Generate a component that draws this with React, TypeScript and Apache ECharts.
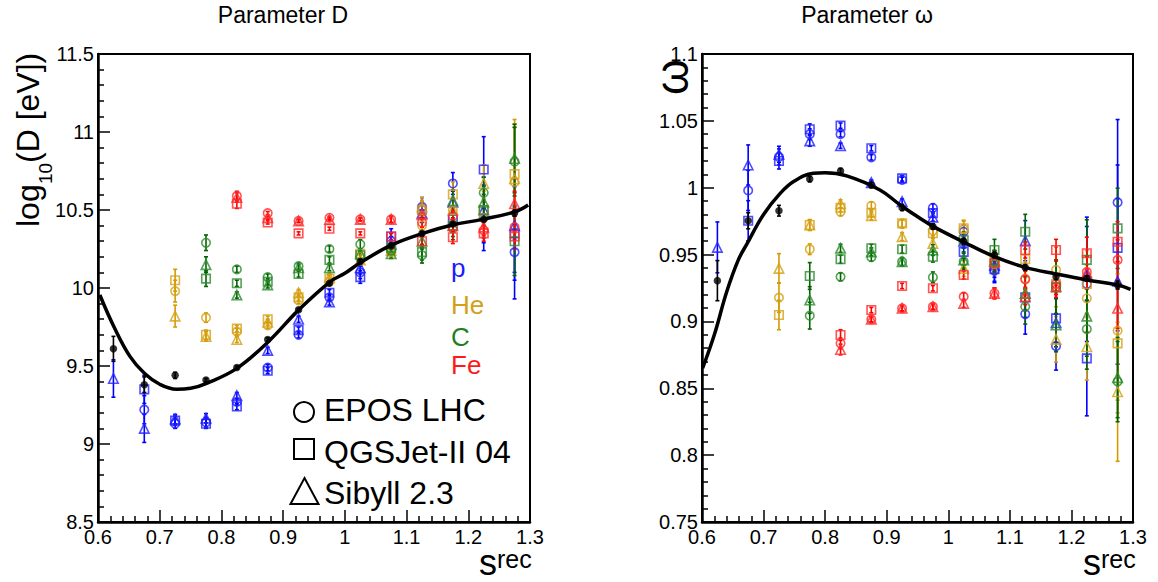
import React, { useEffect, useRef } from 'react';
import * as echarts from 'echarts';

// ---------- data ----------
const S_BINS = [0.625, 0.675, 0.725, 0.775, 0.825, 0.875, 0.925, 0.975, 1.025, 1.075, 1.125, 1.175, 1.225, 1.275];

// Parameter D : log10(D [eV])
const D_DATA = [9.61, 9.38, 9.44, 9.41, 9.49, 9.67, 9.86, 10.03, 10.17, 10.27, 10.35, 10.41, 10.44, 10.48];
const D_DATA_ERR = [0.08, 0.05, 0.02, 0.01, 0.01, 0.01, 0.01, 0.01, 0.01, 0.01, 0.01, 0.01, 0.01, 0.02];
const D_P_EPOS = [null, 9.22, 9.13, 9.14, 9.27, 9.49, 9.70, 9.94, 10.10, 10.30, 10.52, 10.67, 10.45, 10.23];
const D_P_QGS = [null, 9.35, 9.15, 9.13, 9.24, 9.47, 9.73, 9.97, 10.07, 10.33, 10.50, 10.44, 10.76, 10.35];
const D_P_SIB = [9.42, 9.10, 9.16, 9.165, 9.31, 9.60, 9.80, 9.91, 10.13, 10.28, 10.48, 10.55, 10.50, 10.40];
const D_P_ERR = [0.12, 0.09, 0.03, 0.03, 0.02, 0.02, 0.02, 0.02, 0.04, 0.05, 0.06, 0.07, 0.21, 0.30];
const D_HE_EPOS = [null, null, 9.98, 9.81, 9.72, 9.76, 9.92, 10.04, 10.20, 10.23, 10.40, 10.50, 10.45, 10.68];
const D_HE_QGS = [null, null, 10.05, 9.70, 9.74, 9.80, 9.94, 10.06, 10.22, 10.25, 10.50, 10.60, 10.50, 10.73];
const D_HE_SIB = [null, null, 9.82, 9.69, 9.67, 9.78, 9.97, 10.07, 10.18, 10.24, 10.52, 10.50, 10.67, 10.70];
const D_HE_ERR = [null, null, 0.07, 0.03, 0.02, 0.02, 0.02, 0.02, 0.03, 0.04, 0.06, 0.08, 0.12, 0.35];
const D_C_EPOS = [null, null, null, 10.29, 10.12, 10.07, 10.14, 10.25, 10.28, 10.24, 10.21, 10.38, 10.61, 10.81];
const D_C_QGS = [null, null, null, 10.06, 10.03, 10.04, 10.09, 10.18, 10.21, 10.26, 10.23, 10.40, 10.50, 10.30];
const D_C_SIB = [null, null, null, 10.15, 9.955, 10.02, 10.13, 10.13, 10.22, 10.22, 10.30, 10.56, 10.55, 10.83];
const D_C_ERR = [null, null, null, 0.05, 0.02, 0.02, 0.02, 0.02, 0.03, 0.03, 0.05, 0.07, 0.10, 0.22];
const D_FE_EPOS = [null, null, null, null, 10.59, 10.48, 10.43, 10.45, 10.44, 10.44, 10.42, 10.46, 10.37, 10.39];
const D_FE_QGS = [null, null, null, null, 10.54, 10.42, 10.35, 10.38, 10.35, 10.33, 10.30, 10.325, 10.35, 10.33];
const D_FE_SIB = [null, null, null, null, 10.58, 10.45, 10.43, 10.44, 10.44, 10.44, 10.47, 10.40, 10.39, 10.54];
const D_FE_ERR = [null, null, null, null, 0.03, 0.01, 0.01, 0.01, 0.01, 0.02, 0.03, 0.04, 0.05, 0.08];
const D_FIT_X = [0.603, 0.626, 0.652, 0.676, 0.70, 0.727, 0.75, 0.776, 0.825, 0.876, 0.926, 0.976, 1.0, 1.025, 1.076, 1.126, 1.174, 1.223, 1.276, 1.297];
const D_FIT_Y = [9.955, 9.75, 9.56, 9.45, 9.383, 9.351, 9.357, 9.389, 9.485, 9.656, 9.863, 10.04, 10.094, 10.162, 10.276, 10.35, 10.404, 10.44, 10.489, 10.532];

// Parameter omega
const W_DATA = [0.9305, 0.9753, 0.9828, 1.0065, 1.0125, 1.002, 0.985, 0.971, 0.960, 0.9497, 0.9404, 0.9334, 0.9322, 0.9272];
const W_DATA_ERR = [0.015, 0.006, 0.004, 0.002, 0.002, 0.002, 0.002, 0.002, 0.002, 0.002, 0.002, 0.002, 0.002, 0.003];
const W_P_EPOS = [null, 0.998, 1.023, 1.040, 1.040, 1.0227, 1.0058, 0.985, 0.967, 0.938, 0.9055, 0.8816, 0.928, 0.989];
const W_P_QGS = [null, 0.9753, 1.020, 1.0437, 1.0464, 1.0295, 1.007, 0.981, 0.952, 0.939, 0.918, 0.9023, 0.8724, 0.955];
const W_P_SIB = [0.9554, 1.017, 1.025, 1.035, 1.0314, 1.0038, 0.9896, 0.978, 0.960, 0.942, 0.9604, 0.899, 0.935, 0.930];
const W_P_ERR = [0.019, 0.015, 0.006, 0.004, 0.002, 0.002, 0.002, 0.003, 0.005, 0.009, 0.015, 0.018, 0.043, 0.062];
const W_HE_EPOS = [null, null, 0.9178, 0.954, 0.982, 0.9865, 0.973, 0.968, 0.969, 0.943, 0.932, 0.9385, 0.9173, 0.8931];
const W_HE_QGS = [null, null, 0.9048, 0.9721, 0.985, 0.9813, 0.9733, 0.966, 0.9697, 0.945, 0.9465, 0.928, 0.928, 0.8836];
const W_HE_SIB = [null, null, 0.9397, 0.9721, 0.988, 0.979, 0.9634, 0.9584, 0.9397, 0.945, 0.921, 0.8866, 0.8811, 0.8474];
const W_HE_ERR = [null, null, 0.011, 0.004, 0.003, 0.003, 0.003, 0.004, 0.006, 0.008, 0.012, 0.017, 0.025, 0.052];
const W_C_EPOS = [null, null, null, 0.9043, 0.9334, 0.948, 0.9447, 0.933, 0.945, 0.945, 0.911, 0.926, 0.8943, 0.855];
const W_C_QGS = [null, null, null, 0.934, 0.9465, 0.9547, 0.954, 0.9484, 0.9609, 0.9534, 0.9671, 0.9255, 0.946, 0.9696];
const W_C_SIB = [null, null, null, 0.916, 0.9547, 0.952, 0.9447, 0.9534, 0.946, 0.945, 0.921, 0.8973, 0.904, 0.858];
const W_C_ERR = [null, null, null, 0.010, 0.003, 0.003, 0.003, 0.004, 0.006, 0.008, 0.013, 0.020, 0.030, 0.030];
const W_FE_EPOS = [null, null, null, null, 0.8836, 0.9016, 0.9098, 0.911, 0.9185, 0.921, 0.9315, 0.928, 0.937, 0.946];
const W_FE_QGS = [null, null, null, null, 0.8898, 0.9085, 0.9265, 0.9248, 0.9347, 0.9435, 0.9534, 0.9534, 0.951, 0.9596];
const W_FE_SIB = [null, null, null, null, 0.879, 0.9016, 0.9098, 0.911, 0.9135, 0.921, 0.9185, 0.926, 0.9365, 0.9098];
const W_FE_ERR = [null, null, null, null, 0.004, 0.002, 0.002, 0.002, 0.003, 0.004, 0.006, 0.008, 0.012, 0.015];
const W_FIT_X = [0.601, 0.62, 0.64, 0.659, 0.673, 0.70, 0.727, 0.75, 0.781, 0.80, 0.835, 0.889, 0.922, 0.954, 0.976, 1.024, 1.075, 1.125, 1.175, 1.225, 1.275, 1.296];
const W_FIT_Y = [0.865, 0.89, 0.922, 0.946, 0.958, 0.98, 0.9958, 1.005, 1.0108, 1.0112, 1.0088, 0.9983, 0.9871, 0.9771, 0.9709, 0.9596, 0.9484, 0.9404, 0.9355, 0.931, 0.9272, 0.924];

const PRIMARIES = ['p', 'He', 'C', 'Fe'];
const MODEL_NAMES = ['EPOS LHC', 'QGSJet-II 04', 'Sibyll 2.3'];

// ---------- style ----------
const FONT = '"Liberation Sans", Arial, Helvetica, sans-serif';
const MARK_COLORS = ['#2020ff', '#d4a017', '#2a8a2a', '#ff2a2a'];
const ERR_COLORS = ['#0000ff', '#d49b00', '#006400', '#ff0000'];
const SYMBOLS = ['circle', 'rect', 'triangle'];
const SYMBOL_SIZES = [8.5, 8.5, 9.5];

const D_SETS = [
  { models: [D_P_EPOS, D_P_QGS, D_P_SIB], err: D_P_ERR },
  { models: [D_HE_EPOS, D_HE_QGS, D_HE_SIB], err: D_HE_ERR },
  { models: [D_C_EPOS, D_C_QGS, D_C_SIB], err: D_C_ERR },
  { models: [D_FE_EPOS, D_FE_QGS, D_FE_SIB], err: D_FE_ERR },
];
const W_SETS = [
  { models: [W_P_EPOS, W_P_QGS, W_P_SIB], err: W_P_ERR },
  { models: [W_HE_EPOS, W_HE_QGS, W_HE_SIB], err: W_HE_ERR },
  { models: [W_C_EPOS, W_C_QGS, W_C_SIB], err: W_C_ERR },
  { models: [W_FE_EPOS, W_FE_QGS, W_FE_SIB], err: W_FE_ERR },
];

function errSeries(grid: number, color: string, pts: number[][], z: number) {
  return {
    type: 'custom',
    xAxisIndex: grid,
    yAxisIndex: grid,
    z,
    silent: true,
    clip: true,
    encode: { x: 0, y: 1 },
    data: pts,
    renderItem: (params: any, api: any) => {
      const x = api.value(0);
      const y = api.value(1);
      const e = api.value(2);
      const t = api.coord([x, y + e]);
      const b = api.coord([x, y - e]);
      const st = { stroke: color, lineWidth: 1.6 };
      return {
        type: 'group',
        children: [
          { type: 'line', shape: { x1: t[0], y1: t[1], x2: b[0], y2: b[1] }, style: st },
          { type: 'line', shape: { x1: t[0] - 2, y1: t[1], x2: t[0] + 2, y2: t[1] }, style: st },
          { type: 'line', shape: { x1: b[0] - 2, y1: b[1], x2: b[0] + 2, y2: b[1] }, style: st },
        ],
      };
    },
  };
}

function buildSeries(grid: number, sets: any[], data: number[], dataErr: number[], fitX: number[], fitY: number[]) {
  const series: any[] = [];
  sets.forEach((set, pi) => {
    const errPts: number[][] = [];
    set.models.forEach((vals: (number | null)[], mi: number) => {
      const pts: number[][] = [];
      vals.forEach((v, i) => {
        if (v === null) return;
        pts.push([S_BINS[i], v]);
        const e = set.err[i];
        if (e) errPts.push([S_BINS[i], v, e]);
      });
      series.push({
        type: 'scatter',
        name: PRIMARIES[pi] + ' ' + MODEL_NAMES[mi],
        xAxisIndex: grid,
        yAxisIndex: grid,
        symbol: SYMBOLS[mi],
        symbolSize: SYMBOL_SIZES[mi],
        data: pts,
        z: 4,
        silent: true,
        itemStyle: { color: 'rgba(0,0,0,0)', borderColor: MARK_COLORS[pi], borderWidth: 1.6, opacity: 0.8 },
      });
    });
    series.push(errSeries(grid, ERR_COLORS[pi], errPts, 3));
  });
  const fit = fitX.map((x, i) => [x, fitY[i]]);
  series.push({
    type: 'line',
    xAxisIndex: grid,
    yAxisIndex: grid,
    data: fit,
    smooth: 0.4,
    showSymbol: false,
    silent: true,
    z: 5,
    lineStyle: { color: '#000', width: 3.5 },
  });
  const dpts = data.map((v, i) => [S_BINS[i], v]);
  const dErr = data.map((v, i) => [S_BINS[i], v, dataErr[i]]);
  series.push(errSeries(grid, '#000', dErr, 6));
  series.push({
    type: 'scatter',
    xAxisIndex: grid,
    yAxisIndex: grid,
    symbol: 'circle',
    symbolSize: 7.5,
    data: dpts,
    z: 7,
    silent: true,
    itemStyle: { color: '#000' },
  });
  return series;
}

const fmt = (v: number) => String(Math.round(v * 1000) / 1000);

function axisCommon() {
  return {
    type: 'value',
    axisLine: { show: true, onZero: false, lineStyle: { color: '#000', width: 2.5 } },
    axisTick: { show: true, inside: true, length: 12, lineStyle: { color: '#000', width: 1.5 } },
    minorTick: { show: true, splitNumber: 5, length: 6, lineStyle: { color: '#000', width: 1.5 } },
    splitLine: { show: false },
    axisLabel: { color: '#000', fontFamily: FONT, fontSize: 20, formatter: fmt, showMinLabel: true, showMaxLabel: true },
  };
}

export default function App() {
  const ref = useRef<HTMLDivElement>(null);
  useEffect(() => {
    if (!ref.current) return;
    const chart = echarts.init(ref.current, null, { renderer: 'svg' });
    const legendTexts = [
      { text: 'p', y: 268, c: '#1a1aff' },
      { text: 'He', y: 305, c: '#d4a017' },
      { text: 'C', y: 337, c: '#1f7f1f' },
      { text: 'Fe', y: 365, c: '#ff1a1a' },
    ];
    const graphic: any[] = [
      { type: 'text', x: 283, y: 15, style: { text: 'Parameter D', font: '23px ' + FONT, fill: '#000', align: 'center', verticalAlign: 'middle' } },
      { type: 'text', x: 867, y: 15, style: { text: 'Parameter ω', font: '23px ' + FONT, fill: '#000', align: 'center', verticalAlign: 'middle' } },
      {
        type: 'group', x: 28, y: 227, rotation: Math.PI / 2,
        children: [
          { type: 'text', x: 0, y: 0, style: { text: 'log', font: '32px ' + FONT, fill: '#000', align: 'left', verticalAlign: 'middle' } },
          { type: 'text', x: 43, y: 17, style: { text: '10', font: '19px ' + FONT, fill: '#000', align: 'left', verticalAlign: 'middle' } },
          { type: 'text', x: 64, y: 0, style: { text: '(D [eV])', font: '32px ' + FONT, fill: '#000', align: 'left', verticalAlign: 'middle' } },
        ],
      },
      { type: 'text', x: 672, y: 77, rotation: Math.PI / 2, style: { text: 'ω', font: '46px ' + FONT, fill: '#000', align: 'center', verticalAlign: 'middle' } },
      { type: 'text', x: 479, y: 562, style: { text: 's', font: '36px ' + FONT, fill: '#000', align: 'left', verticalAlign: 'middle' } },
      { type: 'text', x: 497, y: 559, style: { text: 'rec', font: '25px ' + FONT, fill: '#000', align: 'left', verticalAlign: 'middle' } },
      { type: 'text', x: 1083, y: 562, style: { text: 's', font: '36px ' + FONT, fill: '#000', align: 'left', verticalAlign: 'middle' } },
      { type: 'text', x: 1101, y: 559, style: { text: 'rec', font: '25px ' + FONT, fill: '#000', align: 'left', verticalAlign: 'middle' } },
      ...legendTexts.map((t) => ({ type: 'text', x: 451, y: t.y, style: { text: t.text, font: '26px ' + FONT, fill: t.c, align: 'left', verticalAlign: 'middle' } })),
      { type: 'circle', shape: { cx: 304, cy: 412, r: 10 }, style: { fill: 'none', stroke: '#000', lineWidth: 2 } },
      { type: 'rect', shape: { x: 294, y: 439, width: 20, height: 20 }, style: { fill: 'none', stroke: '#000', lineWidth: 2 } },
      { type: 'polygon', shape: { points: [[304.5, 478], [318.5, 504], [290.5, 504]] }, style: { fill: 'none', stroke: '#000', lineWidth: 2 } },
      { type: 'text', x: 324, y: 410, style: { text: MODEL_NAMES[0], font: '32px ' + FONT, fill: '#000', align: 'left', verticalAlign: 'middle' } },
      { type: 'text', x: 324, y: 452, style: { text: MODEL_NAMES[1], font: '32px ' + FONT, fill: '#000', align: 'left', verticalAlign: 'middle' } },
      { type: 'text', x: 324, y: 493, style: { text: MODEL_NAMES[2], font: '32px ' + FONT, fill: '#000', align: 'left', verticalAlign: 'middle' } },
    ];
    const option: any = {
      animation: false,
      backgroundColor: '#fff',
      grid: [
        { left: 98, top: 54, width: 432, height: 468, show: true, borderColor: '#000', borderWidth: 2, backgroundColor: 'transparent' },
        { left: 702, top: 54, width: 431, height: 468, show: true, borderColor: '#000', borderWidth: 2, backgroundColor: 'transparent' },
      ],
      xAxis: [
        { ...axisCommon(), gridIndex: 0, min: 0.6, max: 1.3, interval: 0.1, axisLabel: { ...axisCommon().axisLabel, margin: 5 } },
        { ...axisCommon(), gridIndex: 1, min: 0.6, max: 1.3, interval: 0.1, axisLabel: { ...axisCommon().axisLabel, margin: 5 } },
      ],
      yAxis: [
        { ...axisCommon(), gridIndex: 0, min: 8.5, max: 11.5, interval: 0.5, axisLabel: { ...axisCommon().axisLabel, margin: 4 } },
        { ...axisCommon(), gridIndex: 1, min: 0.75, max: 1.1, interval: 0.05, axisLabel: { ...axisCommon().axisLabel, margin: 4 } },
      ],
      series: [
        ...buildSeries(0, D_SETS, D_DATA, D_DATA_ERR, D_FIT_X, D_FIT_Y),
        ...buildSeries(1, W_SETS, W_DATA, W_DATA_ERR, W_FIT_X, W_FIT_Y),
      ],
      graphic,
    };
    chart.setOption(option);
    return () => chart.dispose();
  }, []);
  return <div ref={ref} style={{ position: 'absolute', left: 0, top: 0, width: 1158, height: 582, background: '#fff' }} />;
}
